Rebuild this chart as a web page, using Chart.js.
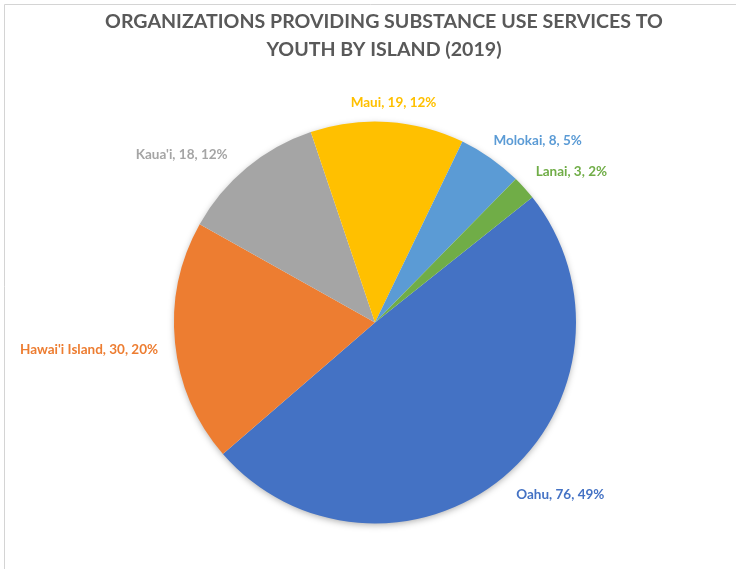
<!DOCTYPE html>
<html>
<head>
<meta charset="utf-8">
<script src="https://cdn.jsdelivr.net/npm/chart.js@4/dist/chart.umd.min.js"></script>
<style>
html,body{margin:0;padding:0;background:#fff;}
#wrap{width:736px;height:569px;position:relative;}
</style>
</head>
<body>
<div id="wrap"><canvas id="c" width="736" height="569"></canvas></div>
<script>
// ---- data ----
const categories = ["Oahu", "Hawai'i Island", "Kaua'i", "Maui", "Molokai", "Lanai"];
const values = [76, 30, 18, 19, 8, 3];
const percentLabels = ["49%", "20%", "12%", "12%", "5%", "2%"];
const titleLines = ["ORGANIZATIONS PROVIDING SUBSTANCE USE SERVICES TO", "YOUTH BY ISLAND (2019)"];

// ---- styles ----
const colors = ["#4472C4", "#ED7D31", "#A5A5A5", "#FFC000", "#5B9BD5", "#70AD47"];
const labelOffsets = [[57,17],[-86,7],[-65,-13],[6,-19],[47,-17],[47,-16]];
const FONT = "Lato, 'Open Sans', sans-serif";

const framePlugin = {
  id: 'frame',
  beforeDraw(chart) {
    const ctx = chart.ctx;
    ctx.save();
    ctx.strokeStyle = '#d4d4d4';
    ctx.lineWidth = 1;
    ctx.beginPath();
    ctx.moveTo(4.5, 569); ctx.lineTo(4.5, 4.5); ctx.lineTo(736, 4.5);
    ctx.stroke();
    // title
    ctx.fillStyle = '#595959';
    ctx.textAlign = 'center';
    ctx.textBaseline = 'middle';
    ctx.font = "bold 20px " + FONT;
    const w = ctx.measureText(titleLines[0]).width;
    const size = 20 * 558 / w;
    ctx.font = "bold " + size.toFixed(2) + "px " + FONT;
    ctx.fillText(titleLines[0], 384, 22);
    ctx.fillText(titleLines[1], 384, 50);
    ctx.restore();
  },
  beforeDatasetsDraw(chart) {
    const arc = chart.getDatasetMeta(0).data[0];
    if (!arc) return;
    const ctx = chart.ctx;
    ctx.save();
    ctx.shadowColor = 'rgba(0,0,0,0.35)';
    ctx.shadowBlur = 7;
    ctx.shadowOffsetY = 2;
    ctx.fillStyle = '#ffffff';
    ctx.beginPath();
    ctx.arc(arc.x, arc.y, arc.outerRadius - 1, 0, Math.PI * 2);
    ctx.fill();
    ctx.restore();
  },
  afterDatasetsDraw(chart) {
    const ctx = chart.ctx;
    const meta = chart.getDatasetMeta(0);
    ctx.save();
    ctx.font = "bold 13.5px " + FONT;
    ctx.textAlign = 'center';
    ctx.textBaseline = 'middle';
    meta.data.forEach((a, i) => {
      const mid = (a.startAngle + a.endAngle) / 2;
      const px = a.x + Math.cos(mid) * a.outerRadius;
      const py = a.y + Math.sin(mid) * a.outerRadius;
      const off = labelOffsets[i];
      ctx.fillStyle = colors[i];
      ctx.fillText(categories[i] + ", " + values[i] + ", " + percentLabels[i], px + off[0], py + off[1]);
    });
    ctx.restore();
  }
};

new Chart(document.getElementById('c'), {
  type: 'pie',
  data: {
    labels: categories,
    datasets: [{
      data: values,
      backgroundColor: colors,
      borderWidth: 0
    }]
  },
  options: {
    responsive: false,
    animation: false,
    rotation: 51.5,
    layout: { padding: { left: 174, right: 160, top: 121, bottom: 45 } },
    plugins: {
      legend: { display: false },
      title: { display: false },
      tooltip: { enabled: false }
    }
  },
  plugins: [framePlugin]
});
</script>
</body>
</html>
